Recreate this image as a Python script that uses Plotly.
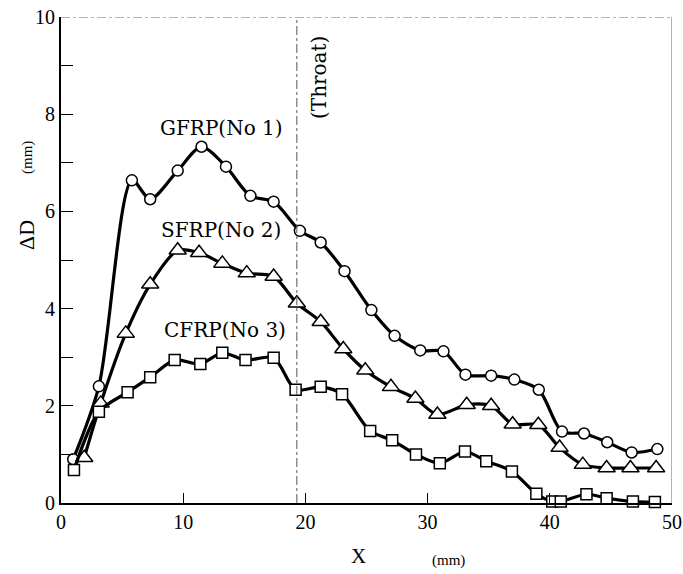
import plotly.graph_objects as go

# GFRP (No 1) - circles
g_x = [1.0, 3.1, 5.8, 7.3, 9.55, 11.5, 13.5, 15.5, 17.4, 19.55, 21.25, 23.2, 25.4, 27.3, 29.4, 31.3, 33.1, 35.2, 37.1, 39.1, 41.0, 42.8, 44.7, 46.7, 48.8]
g_y = [0.9, 2.4, 6.64, 6.25, 6.84, 7.33, 6.92, 6.32, 6.2, 5.6, 5.36, 4.77, 3.97, 3.44, 3.14, 3.12, 2.64, 2.62, 2.54, 2.33, 1.47, 1.43, 1.25, 1.04, 1.11]
# SFRP (No 2) - triangles
s_x = [1.9, 3.25, 5.3, 7.3, 9.55, 11.3, 13.2, 15.2, 17.4, 19.3, 21.25, 23.1, 24.9, 27.0, 29.0, 30.8, 33.2, 35.2, 36.96, 39.06, 40.8, 42.7, 44.65, 46.6, 48.7]
s_y = [0.93, 2.05, 3.49, 4.5, 5.2, 5.15, 4.93, 4.73, 4.66, 4.11, 3.73, 3.17, 2.73, 2.39, 2.15, 1.82, 2.02, 2.0, 1.62, 1.61, 1.14, 0.79, 0.72, 0.72, 0.72]
# CFRP (No 3) - squares
c_x = [1.06, 3.1, 5.45, 7.3, 9.3, 11.4, 13.2, 15.1, 17.4, 19.2, 21.25, 23.0, 25.3, 27.1, 29.05, 31.0, 33.06, 34.8, 36.9, 38.9, 40.2, 40.9, 43.0, 44.65, 46.8, 48.6]
c_y = [0.68, 1.88, 2.28, 2.59, 2.94, 2.86, 3.09, 2.94, 2.99, 2.33, 2.39, 2.24, 1.48, 1.29, 1.0, 0.82, 1.06, 0.86, 0.65, 0.19, 0.03, 0.03, 0.18, 0.1, 0.03, 0.02]

series_labels = ["GFRP(No 1)", "SFRP(No 2)", "CFRP(No 3)"]
label_pos = [(13.1, 7.72), (13.1, 5.62), (13.4, 3.56)]
throat_x = 19.3

x_ticks = [0, 10, 20, 30, 40, 50]
y_ticks = [0, 1, 2, 3, 4, 5, 6, 7, 8, 9, 10]
y_text = ["0", "", "2", "", "4", "", "6", "", "8", "", "10"]

SERIF = "Liberation Serif, Times New Roman, serif"
WIDE = "DejaVu Serif, serif"

# plot area on page: x 61..672, y 17..503
W, H = 683, 574
L, T = 61, 17
PW, PH = 611, 486
R = W - L - PW
B = H - T - PH

fig = go.Figure()
for xs, ys, sym, size in [(g_x, g_y, "circle", 11), (s_x, s_y, "triangle-up", 15), (c_x, c_y, "square", 11)]:
    fig.add_trace(go.Scatter(
        x=xs, y=ys, mode="lines+markers",
        line=dict(color="black", width=3.2, shape="spline", smoothing=0.8),
        marker=dict(symbol=sym, size=size, color="white",
                    line=dict(color="black", width=1.5)),
        showlegend=False, cliponaxis=False,
    ))

for txt, (lx, ly) in zip(series_labels, label_pos):
    fig.add_annotation(x=lx, y=ly, text=txt, showarrow=False, xanchor="center", yanchor="middle",
                       font=dict(family=WIDE, size=20, color="black"))

# throat line
fig.add_shape(type="line", x0=throat_x, x1=throat_x, y0=0, y1=10, xref="x", yref="y",
              line=dict(color="#555", width=1, dash="dashdot"))
fig.add_annotation(x=(319 - 61) / 12.22, y=(503 - 78) / 48.6, text="(Throat)", textangle=-90,
                   showarrow=False, xanchor="center", yanchor="middle",
                   font=dict(family=WIDE, size=20, color="black"))
# top border dash-dot
fig.add_shape(type="line", x0=0, x1=50, y0=10, y1=10, xref="x", yref="y",
              line=dict(color="#666", width=1, dash="dashdot"))
# right border
fig.add_shape(type="line", x0=50, x1=50, y0=0, y1=10, xref="x", yref="y",
              line=dict(color="#666", width=1))

# axis titles
def title(px, py, text, size, angle=0):
    fig.add_annotation(xref="paper", yref="paper", x=(px - L) / PW, y=(T + PH - py) / PH,
                       text=text, textangle=angle, showarrow=False,
                       xanchor="center", yanchor="middle",
                       font=dict(family=SERIF, size=size, color="black"))

title(358, 556, "X", 21)
title(448, 560, "(mm)", 15)
title(27, 235, "ΔD", 22, -90)
title(28, 158, "(mm)", 15, -90)

fig.update_xaxes(range=[0, 50], tickvals=x_ticks, ticks="inside", ticklen=10, tickcolor="black",
                 showline=True, linecolor="black", linewidth=2, showgrid=False, zeroline=False,
                 automargin=False, ticklabeloverflow="allow",
                 tickfont=dict(family=SERIF, size=20, color="black"))
fig.update_yaxes(range=[0, 10], tickvals=y_ticks, ticktext=y_text, ticks="inside", ticklen=12,
                 tickcolor="black", showline=True, linecolor="black", linewidth=2, showgrid=False,
                 zeroline=False, automargin=False, ticklabeloverflow="allow",
                 tickfont=dict(family=SERIF, size=20, color="black"))
fig.update_layout(width=W, height=H, margin=dict(l=L, r=R, t=T, b=B),
                  plot_bgcolor="white", paper_bgcolor="white")
fig.write_html("out.html", config={"displayModeBar": False},
               post_script="document.body.style.margin='0';document.body.style.overflow='hidden';")
